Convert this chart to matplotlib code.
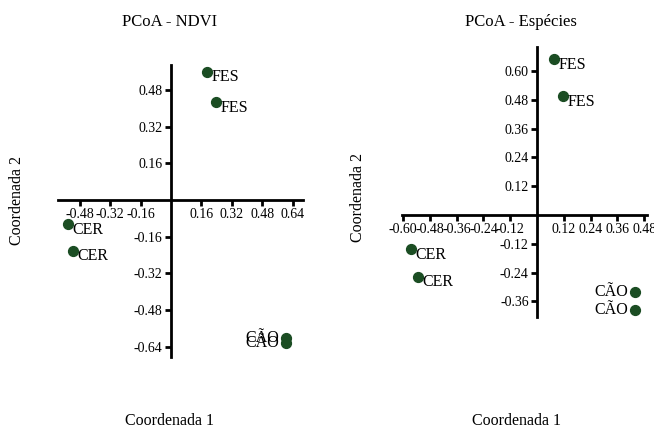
import matplotlib
matplotlib.use('Agg')
from matplotlib import pyplot as plt

plt.rcParams['font.family'] = ['Liberation Serif', 'DejaVu Serif']
plt.rcParams['axes.unicode_minus'] = False

# PCoA - NDVI
ndvi_labels = ['FES', 'FES', 'CER', 'CER', 'CÃO', 'CÃO']
ndvi_x = [0.19, 0.237, -0.54, -0.516, 0.605, 0.605]
ndvi_y = [0.56, 0.428, -0.105, -0.22, -0.6, -0.625]
ndvi_xticks = [-0.48, -0.32, -0.16, 0.16, 0.32, 0.48, 0.64]
ndvi_yticks = [-0.64, -0.48, -0.32, -0.16, 0.16, 0.32, 0.48]

# PCoA - Espécies
esp_labels = ['FES', 'FES', 'CER', 'CER', 'CÃO', 'CÃO']
esp_x = [0.076, 0.117, -0.565, -0.534, 0.44, 0.44]
esp_y = [0.65, 0.496, -0.142, -0.258, -0.32, -0.396]
esp_xticks = [-0.60, -0.48, -0.36, -0.24, -0.12, 0.12, 0.24, 0.36, 0.48]
esp_yticks = [-0.36, -0.24, -0.12, 0.12, 0.24, 0.36, 0.48, 0.60]

green = '#1b4d23'

fig = plt.figure(figsize=(6.54, 4.32), dpi=100)


def pcoa_panel(ax, xs, ys, labels, xticks, yticks, xlim, ylim):
    ax.scatter(xs, ys, s=50, color=green, zorder=3, clip_on=False)
    for x, y, lab in zip(xs, ys, labels):
        if lab == 'CÃO':
            ax.annotate(lab, (x, y), xytext=(-5, 0), textcoords='offset points',
                        ha='right', va='center', fontsize=11.5)
        else:
            ax.annotate(lab, (x, y), xytext=(3, -4), textcoords='offset points',
                        ha='left', va='center', fontsize=11.5)
    ax.set_xlim(*xlim)
    ax.set_ylim(*ylim)
    for s in ['top', 'right']:
        ax.spines[s].set_visible(False)
    ax.spines['left'].set_position(('data', 0))
    ax.spines['bottom'].set_position(('data', 0))
    ax.spines['left'].set_linewidth(2)
    ax.spines['bottom'].set_linewidth(2)
    ax.set_xticks(xticks)
    ax.set_yticks(yticks)
    ax.set_xticklabels(['%.2f' % t for t in xticks])
    ax.set_yticklabels(['%.2f' % t for t in yticks])
    ax.tick_params(direction='out', length=4, width=2, labelsize=10, pad=2)
    ax.patch.set_visible(False)


ax1 = fig.add_axes([58 / 654, 75 / 432, 245 / 654, 292 / 432])
pcoa_panel(ax1, ndvi_x, ndvi_y, ndvi_labels, ndvi_xticks, ndvi_yticks,
           (-0.595, 0.695), (-0.685, 0.59))

ax2 = fig.add_axes([402 / 654, 115 / 432, 245 / 654, 270 / 432])
pcoa_panel(ax2, esp_x, esp_y, esp_labels, esp_xticks, esp_yticks,
           (-0.605, 0.493), (-0.425, 0.70))

# titles and axis names
fig.text(170 / 654, 1 - 22 / 432, 'PCoA - NDVI', ha='center', va='center', fontsize=12)
fig.text(521 / 654, 1 - 22 / 432, 'PCoA - Espécies', ha='center', va='center', fontsize=12)
fig.text(170 / 654, 1 - 421 / 432, 'Coordenada 1', ha='center', va='center', fontsize=11.5)
fig.text(517 / 654, 1 - 421 / 432, 'Coordenada 1', ha='center', va='center', fontsize=11.5)
fig.text(17 / 654, 1 - 200 / 432, 'Coordenada 2', ha='center', va='center',
         fontsize=11.5, rotation=90)
fig.text(358 / 654, 1 - 197 / 432, 'Coordenada 2', ha='center', va='center',
         fontsize=11.5, rotation=90)

fig.savefig('out.png', dpi=100)
